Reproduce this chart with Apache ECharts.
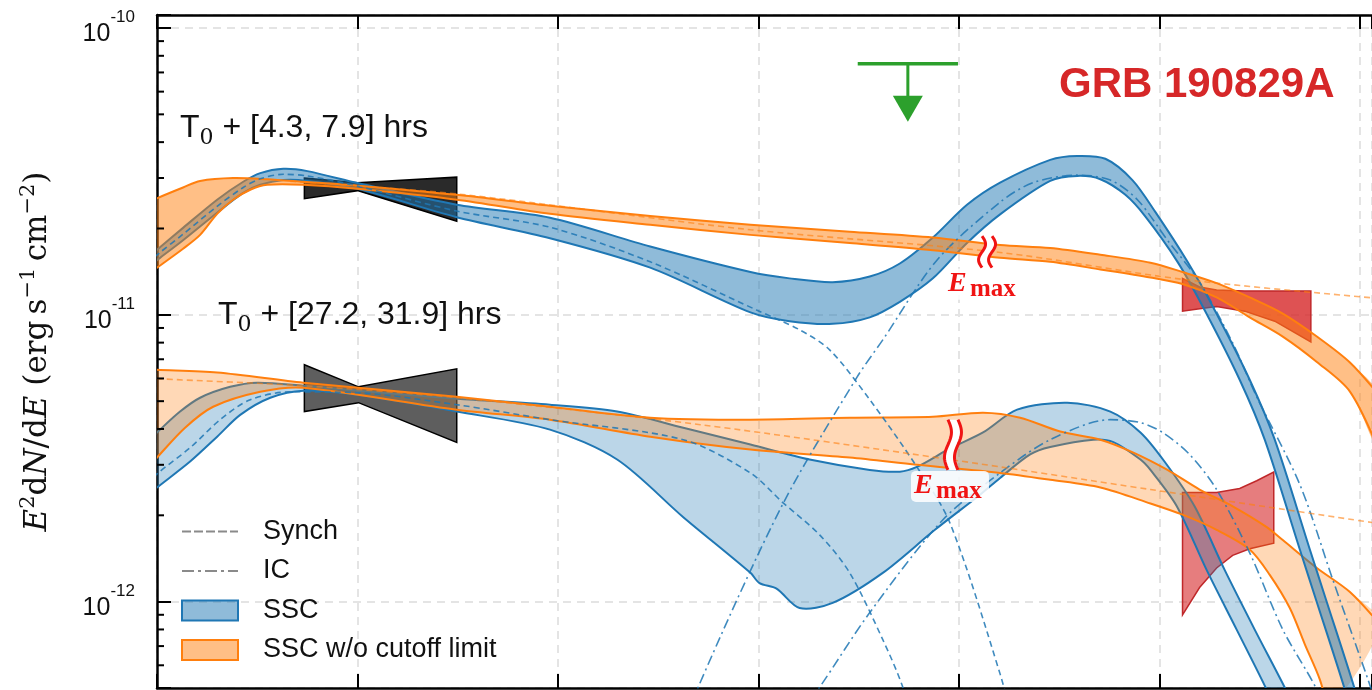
<!DOCTYPE html>
<html>
<head>
<meta charset="utf-8">
<title>GRB 190829A SED</title>
<script src="https://cdn.jsdelivr.net/npm/echarts@6/dist/echarts.min.js"></script>
<style>
  html, body { margin: 0; padding: 0; background: #fff; }
  #sed { width: 1372px; height: 690px; }
</style>
</head>
<body>
<div id="sed"></div>
<script>
// x = log10(E / eV), y = E^2 dN/dE in erg s^-1 cm^-2

// night 1: T0 + [4.3, 7.9] hrs
var ssc1Upper = [[0.90,1.57e-11],[1.03,1.72e-11],[1.26,2.01e-11],[1.60,2.52e-11],[1.86,2.91e-11],[2.03,3.12e-11],[2.26,3.23e-11],[2.50,3.17e-11],[3.00,2.88e-11],[3.99,2.42e-11],[4.92,2.18e-11],[5.92,1.73e-11],[6.92,1.41e-11],[7.31,1.34e-11],[7.74,1.30e-11],[8.11,1.36e-11],[8.41,1.51e-11],[8.74,1.86e-11],[9.08,2.42e-11],[9.41,2.89e-11],[9.91,3.47e-11],[10.18,3.58e-11],[10.46,3.50e-11],[10.73,2.95e-11],[10.96,2.28e-11],[11.28,1.53e-11],[11.55,1.04e-11],[11.90,5.94e-12],[12.15,3.67e-12],[12.50,1.52e-12],[12.66,1.02e-12],[12.95,4.93e-13],[13.08,3.4e-13]];
var ssc1Lower = [[0.90,1.46e-11],[1.03,1.58e-11],[1.26,1.82e-11],[1.60,2.27e-11],[1.86,2.66e-11],[2.03,2.84e-11],[2.26,2.95e-11],[2.50,2.93e-11],[3.00,2.75e-11],[3.99,2.19e-11],[4.92,1.85e-11],[5.92,1.46e-11],[6.92,1.02e-11],[7.31,9.5e-12],[7.74,9.3e-12],[8.11,9.8e-12],[8.41,1.11e-11],[8.74,1.34e-11],[9.08,1.78e-11],[9.41,2.24e-11],[9.91,2.93e-11],[10.18,3.05e-11],[10.41,2.97e-11],[10.66,2.62e-11],[10.86,2.20e-11],[11.18,1.53e-11],[11.45,1.04e-11],[11.80,5.94e-12],[12.05,3.67e-12],[12.40,1.52e-12],[12.56,1.02e-12],[12.85,4.93e-13],[12.98,3.4e-13]];
var synch1 = [[0.90,1.51e-11],[1.03,1.65e-11],[1.26,1.91e-11],[1.60,2.39e-11],[1.86,2.78e-11],[2.03,2.98e-11],[2.26,3.09e-11],[2.50,3.05e-11],[3.00,2.81e-11],[3.99,2.30e-11],[4.92,2.02e-11],[5.92,1.53e-11],[6.98,1.04e-11],[7.41,8.87e-12],[7.71,7.55e-12],[8.11,5.06e-12],[8.58,2.95e-12],[8.91,1.88e-12],[9.41,5.6e-13],[9.56,3.5e-13]];
var ic1 = [[6.22,3.3e-13],[6.40,5.05e-13],[7.24,2.18e-12],[7.98,6.04e-12],[8.24,8.18e-12],[8.78,1.55e-11],[9.41,2.47e-11],[9.74,2.89e-11],[10.18,3.07e-11],[10.51,2.95e-11],[10.78,2.52e-11],[11.08,1.82e-11],[11.40,1.30e-11],[11.73,7.98e-12],[11.97,5.18e-12],[12.40,2.56e-12],[12.73,1.19e-12],[13.08,5.35e-13],[13.20,4.0e-13]];
var noCut1Upper = [[0.90,2.45e-11],[1.00,2.55e-11],[1.26,2.78e-11],[1.43,2.93e-11],[1.76,3.00e-11],[2.10,2.97e-11],[2.46,2.91e-11],[3.00,2.82e-11],[3.99,2.62e-11],[4.92,2.40e-11],[5.92,2.21e-11],[6.92,2.06e-11],[7.91,1.95e-11],[8.74,1.86e-11],[9.41,1.75e-11],[9.91,1.71e-11],[10.41,1.62e-11],[10.91,1.52e-11],[11.23,1.41e-11],[11.57,1.29e-11],[11.90,1.15e-11],[12.23,1.01e-11],[12.57,8.4e-12],[12.90,6.82e-12],[13.20,5.2e-12]];
var noCut1Lower = [[0.90,1.38e-11],[1.00,1.46e-11],[1.26,1.70e-11],[1.43,1.90e-11],[1.60,2.25e-11],[1.76,2.52e-11],[1.93,2.73e-11],[2.10,2.84e-11],[2.46,2.84e-11],[3.00,2.75e-11],[3.99,2.52e-11],[4.92,2.25e-11],[5.92,2.06e-11],[6.92,1.90e-11],[7.91,1.78e-11],[8.74,1.68e-11],[9.41,1.58e-11],[9.91,1.53e-11],[10.41,1.44e-11],[10.91,1.35e-11],[11.23,1.28e-11],[11.57,1.15e-11],[11.90,9.8e-12],[12.23,8.4e-12],[12.57,6.85e-12],[12.90,5.4e-12],[13.20,3.3e-12]];
var noCutSynch1 = [[2.33,2.92e-11],[3.99,2.64e-11],[6.92,1.98e-11],[9.41,1.65e-11],[11.23,1.33e-11],[13.20,1.14e-11]];
var xrt1Top = [[2.47,3.00e-11],[3.00,2.89e-11],[3.99,3.02e-11]];
var xrt1Bottom = [[2.47,2.54e-11],[3.00,2.71e-11],[3.99,2.12e-11]];
var hess1Top = [[11.23,1.34e-11],[11.40,1.25e-11],[11.57,1.22e-11],[11.85,1.21e-11],[12.15,1.21e-11],[12.51,1.21e-11]];
var hess1Bottom = [[11.23,1.03e-11],[11.40,1.05e-11],[11.57,1.07e-11],[11.85,1.03e-11],[12.15,9.5e-12],[12.51,8.05e-12]];

// night 2: T0 + [27.2, 31.9] hrs
var ssc2Upper = [[0.90,3.60e-12],[1.00,3.89e-12],[1.23,4.60e-12],[1.43,5.14e-12],[1.73,5.61e-12],[2.00,5.80e-12],[2.46,5.66e-12],[3.00,5.44e-12],[3.99,5.10e-12],[4.92,4.86e-12],[5.59,4.60e-12],[6.32,3.98e-12],[6.92,3.53e-12],[7.51,3.13e-12],[8.11,2.88e-12],[8.41,2.84e-12],[8.58,2.95e-12],[8.91,3.42e-12],[9.24,3.89e-12],[9.58,4.67e-12],[10.08,4.94e-12],[10.51,4.60e-12],[10.81,3.89e-12],[11.05,3.08e-12],[11.35,2.15e-12],[11.65,1.29e-12],[11.95,7.99e-13],[12.27,4.86e-13],[12.40,3.88e-13]];
var ssc2Lower = [[0.90,2.34e-12],[1.00,2.50e-12],[1.33,3.08e-12],[1.60,3.76e-12],[1.83,4.48e-12],[2.13,5.14e-12],[2.46,5.44e-12],[3.00,5.26e-12],[3.99,4.60e-12],[4.92,3.98e-12],[5.59,3.13e-12],[6.25,1.97e-12],[6.92,1.26e-12],[7.01,1.16e-12],[7.18,1.11e-12],[7.41,9.5e-13],[7.74,9.9e-13],[8.24,1.26e-12],[8.76,1.78e-12],[9.21,2.36e-12],[9.41,2.70e-12],[9.71,3.26e-12],[9.91,3.46e-12],[10.34,3.67e-12],[10.54,3.60e-12],[10.81,3.13e-12],[10.91,2.88e-12],[11.17,2.16e-12],[11.47,1.29e-12],[11.77,7.99e-13],[12.07,4.93e-13],[12.20,3.88e-13]];
var synch2 = [[0.90,2.55e-12],[1.00,2.79e-12],[1.33,3.44e-12],[1.63,4.31e-12],[1.93,5.06e-12],[2.33,5.39e-12],[3.00,5.35e-12],[3.99,4.86e-12],[4.92,4.31e-12],[6.25,3.67e-12],[6.92,2.81e-12],[7.24,2.22e-12],[7.61,1.71e-12],[7.91,1.26e-12],[8.24,7.37e-13],[8.44,5.03e-13],[8.56,3.5e-13]];
var ic2 = [[7.51,4.55e-13],[7.61,5.03e-13],[8.11,9.16e-13],[8.84,1.93e-12],[9.41,2.81e-12],[9.91,3.67e-12],[10.51,4.31e-12],[10.81,4.21e-12],[11.03,3.89e-12],[11.30,3.26e-12],[11.57,2.46e-12],[11.90,1.48e-12],[12.23,7.99e-13],[12.57,4.93e-13],[12.65,4.0e-13]];
var noCut2Upper = [[0.90,6.45e-12],[1.00,6.43e-12],[1.60,6.30e-12],[2.46,5.80e-12],[3.99,5.18e-12],[4.92,4.78e-12],[5.92,4.38e-12],[6.92,4.31e-12],[7.91,4.38e-12],[8.74,4.41e-12],[9.24,4.56e-12],[9.61,4.38e-12],[10.01,3.92e-12],[10.41,3.67e-12],[10.74,3.31e-12],[11.08,2.88e-12],[11.40,2.46e-12],[11.73,2.15e-12],[12.07,1.82e-12],[12.23,1.64e-12],[12.57,1.31e-12],[12.90,1.08e-12],[13.20,8.32e-13]];
var noCut2Lower = [[0.90,2.91e-12],[1.00,3.18e-12],[1.28,4.04e-12],[1.56,4.78e-12],[2.03,5.39e-12],[2.46,5.57e-12],[3.99,4.67e-12],[4.92,4.31e-12],[5.92,3.76e-12],[6.92,3.39e-12],[7.91,3.18e-12],[8.58,3.00e-12],[9.41,2.81e-12],[9.91,2.66e-12],[10.41,2.50e-12],[10.91,2.20e-12],[11.23,2.01e-12],[11.57,1.78e-12],[11.90,1.52e-12],[12.10,1.24e-12],[12.30,9.5e-13],[12.45,7.1e-13],[12.60,5.35e-13],[12.68,4.2e-13]];
var noCutSynch2 = [[0.90,6.05e-12],[1.00,5.99e-12],[2.46,5.66e-12],[3.99,5.14e-12],[6.42,4.14e-12],[8.91,3.13e-12],[10.91,2.46e-12],[13.20,1.87e-12]];
var xrt2Top = [[2.47,6.70e-12],[3.01,5.61e-12],[3.99,6.48e-12]];
var xrt2Bottom = [[2.47,4.60e-12],[3.01,4.94e-12],[3.99,3.59e-12]];
var hess2Top = [[11.23,2.40e-12],[11.57,2.40e-12],[11.80,2.48e-12],[11.97,2.64e-12],[12.14,2.83e-12]];
var hess2Bottom = [[11.23,9.0e-13],[11.40,1.12e-12],[11.57,1.31e-12],[11.73,1.45e-12],[11.90,1.53e-12],[12.14,1.60e-12]];

// Fermi-LAT upper limit (night 1)
var ulEnergy = [7.99, 8.99];
var ulFlux = 7.5e-11;

// E_max break marks: [x, top of band, bottom of band]
var emaxMarks = [[9.28, 1.88e-11, 1.46e-11], [8.94, 4.31e-12, 2.88e-12]];

var xMin = 1, xMax = 13.12, yMin = 5.0e-13, yMax = 1.11e-10;
var yMinorTicks = [];
[1e-13, 1e-12, 1e-11].forEach(function (d) {
  for (var m = 2; m <= 9; m++) {
    if (m * d > yMin && m * d < yMax) yMinorTicks.push(m * d);
  }
});

var blue = '#1f77b4', orange = '#ff7f0e', emaxRed = '#f01414';

function toPx(api, pts) {
  return pts.map(function (p) { return api.coord(p); });
}

function band(name, upper, lower, color, fill) {
  return {
    name: name, type: 'custom', clip: true, silent: true, z: 2,
    data: upper,
    renderItem: function (params, api) {
      if (params.dataIndex !== 0) return null;
      var up = toPx(api, upper), lo = toPx(api, lower);
      return {
        type: 'group',
        children: [
          { type: 'polygon', shape: { points: up.concat(lo.slice().reverse()), smooth: 0.3 }, style: { fill: fill } },
          { type: 'polyline', shape: { points: up, smooth: 0.3 }, style: { stroke: color, lineWidth: 2, fill: null } },
          { type: 'polyline', shape: { points: lo, smooth: 0.3 }, style: { stroke: color, lineWidth: 2, fill: null } }
        ]
      };
    }
  };
}

function bowtie(top, bottom, fill, stroke) {
  return {
    type: 'custom', clip: true, silent: true, z: 1,
    data: top,
    renderItem: function (params, api) {
      if (params.dataIndex !== 0) return null;
      var pts = toPx(api, top).concat(toPx(api, bottom).reverse());
      return { type: 'polygon', shape: { points: pts }, style: { fill: fill, stroke: stroke, lineWidth: 1.5 } };
    }
  };
}

function curve(data, color, dash, width) {
  return {
    type: 'line', data: data, symbol: 'none', smooth: 0.3, silent: true, z: 3,
    lineStyle: { color: color, type: dash, width: width || 1.6 }
  };
}

var dashSynch = [6, 4];
var dashIC = [10, 4, 2, 4];

var epochRich = {
  t: { fontSize: 32, fontWeight: 'normal', color: '#111', fontFamily: 'Liberation Sans', verticalAlign: 'bottom', padding: [0, 0, 5, 0] },
  s: { fontSize: 22, fontWeight: 'normal', color: '#111', fontFamily: 'DejaVu Serif', verticalAlign: 'bottom' }
};

var chart = echarts.init(document.getElementById('sed'));

var option = {
  animation: false,
  backgroundColor: '#fff',
  textStyle: { fontFamily: 'Liberation Sans' },
  title: [
    {
      text: 'GRB 190829A', left: 1059, top: 64, padding: 0,
      textStyle: { fontSize: 42, fontWeight: 'bold', color: '#d62728', fontFamily: 'Liberation Sans' }
    },
    {
      text: '{t|T}{s|0}{t| + [4.3, 7.9] hrs}', left: 180, top: 112, padding: 0,
      textStyle: { fontWeight: 'normal', rich: epochRich }
    },
    {
      text: '{t|T}{s|0}{t| + [27.2, 31.9] hrs}', left: 218, top: 299, padding: 0,
      textStyle: { fontWeight: 'normal', rich: epochRich }
    }
  ],
  legend: {
    orient: 'vertical', left: 181, top: 518, padding: 0,
    itemWidth: 56, itemHeight: 20, itemGap: 12.5,
    selectedMode: false,
    textStyle: { fontSize: 27, color: '#111', fontFamily: 'Liberation Sans', padding: [0, 0, 0, 20] },
    data: [
      {
        name: 'Synch',
        icon: 'path://M0,0h0.01v0.01h-0.01z M0,20h0.01v0.01h-0.01z M56,0h0.01v0.01h-0.01z M0,9h9v2h-9z M12,9h9v2h-9z M24,9h9v2h-9z M36,9h9v2h-9z M48,9h8v2h-8z',
        itemStyle: { color: '#8a8a8a' }
      },
      {
        name: 'IC',
        icon: 'path://M0,0h0.01v0.01h-0.01z M0,20h0.01v0.01h-0.01z M56,0h0.01v0.01h-0.01z M0,9h12v2h-12z M16,9h3v2h-3z M23,9h12v2h-12z M39,9h3v2h-3z M46,9h10v2h-10z',
        itemStyle: { color: '#8a8a8a' }
      },
      { name: 'SSC', icon: 'rect', itemStyle: { color: 'rgba(31,119,180,0.5)', borderColor: blue, borderWidth: 2 } },
      { name: 'SSC w/o cutoff limit', icon: 'rect', itemStyle: { color: 'rgba(255,127,14,0.5)', borderColor: orange, borderWidth: 2 } }
    ]
  },
  grid: { left: 157, right: 0, top: 15, bottom: 2 },
  xAxis: [
    {
      type: 'value', min: xMin, max: xMax, interval: 2,
      axisLine: { onZero: false, lineStyle: { color: '#000', width: 2.5 } },
      axisTick: { inside: true, length: 14, lineStyle: { color: '#000', width: 2 } },
      axisLabel: { show: false },
      splitLine: { show: true, lineStyle: { color: '#e4e4e4', type: [8, 6], width: 2 } }
    },
    {
      type: 'value', position: 'top', min: xMin, max: xMax, interval: 2,
      axisLine: { onZero: false, lineStyle: { color: '#000', width: 2.5 } },
      axisTick: { inside: true, length: 14, lineStyle: { color: '#000', width: 2 } },
      axisLabel: { show: false },
      splitLine: { show: false }
    }
  ],
  yAxis: {
    type: 'log', min: yMin, max: yMax,
    axisLine: { lineStyle: { color: '#000', width: 2.5 } },
    axisTick: { inside: true, length: 14, lineStyle: { color: '#000', width: 2 } },
    splitLine: { show: true, lineStyle: { color: '#e4e4e4', type: [8, 6], width: 2 } },
    axisLabel: {
      margin: 22,
      formatter: function (v) {
        var e = Math.log10(v), n = Math.round(e);
        if (Math.abs(e - n) > 1e-6) return '';
        return '{b|10}{e|' + n + '}';
      },
      rich: {
        b: { fontSize: 25, color: '#111', fontFamily: 'Liberation Sans', verticalAlign: 'bottom' },
        e: { fontSize: 17, color: '#111', fontFamily: 'Liberation Sans', verticalAlign: 'bottom', padding: [0, 0, 21, 0] }
      }
    },
    name: '{i|E}{p|2}{r|d}{i|N}{r|/d}{i|E}{r| (erg\u2009s}{p|\u22121}{r|\u2009cm}{p|\u22122}{r|)}',
    nameLocation: 'middle', nameRotate: 90, nameGap: 104,
    nameTextStyle: {
      rich: {
        i: { fontSize: 31, fontStyle: 'italic', color: '#111', fontFamily: 'DejaVu Serif', verticalAlign: 'bottom' },
        r: { fontSize: 31, color: '#111', fontFamily: 'DejaVu Serif', verticalAlign: 'bottom' },
        p: { fontSize: 21, color: '#111', fontFamily: 'DejaVu Serif', verticalAlign: 'bottom', padding: [0, 0, 14, 0] }
      }
    }
  },
  series: [
    bowtie(xrt2Top, xrt2Bottom, '#5e5e5e', '#000'),
    bowtie(xrt1Top, xrt1Bottom, '#2a2a2a', '#000'),
    bowtie(hess2Top, hess2Bottom, 'rgba(214,39,40,0.6)', '#c0282a'),
    bowtie(hess1Top, hess1Bottom, 'rgba(214,39,40,0.8)', '#c0282a'),
    band('SSC', ssc2Upper, ssc2Lower, blue, 'rgba(31,119,180,0.3)'),
    band('SSC w/o cutoff limit', noCut2Upper, noCut2Lower, orange, 'rgba(255,127,14,0.3)'),
    band('SSC', ssc1Upper, ssc1Lower, blue, 'rgba(31,119,180,0.5)'),
    band('SSC w/o cutoff limit', noCut1Upper, noCut1Lower, orange, 'rgba(255,127,14,0.5)'),
    curve(synch1, 'rgba(31,119,180,0.85)', dashSynch),
    curve(ic1, 'rgba(31,119,180,0.85)', dashIC),
    curve(synch2, 'rgba(31,119,180,0.85)', dashSynch),
    curve(ic2, 'rgba(31,119,180,0.85)', dashIC),
    curve(noCutSynch1, 'rgba(255,127,14,0.6)', dashSynch),
    curve(noCutSynch2, 'rgba(255,127,14,0.6)', dashSynch),
    {
      type: 'custom', silent: true, z: 4,
      data: [[ulEnergy[0], ulEnergy[1], ulFlux]],
      renderItem: function (params, api) {
        var a = api.coord([api.value(0), api.value(2)]);
        var b = api.coord([api.value(1), api.value(2)]);
        var cx = (a[0] + b[0]) / 2, y = a[1];
        return {
          type: 'group',
          children: [
            { type: 'line', shape: { x1: a[0], y1: y, x2: b[0], y2: y }, style: { stroke: '#2ca02c', lineWidth: 3.5 } },
            { type: 'line', shape: { x1: cx, y1: y, x2: cx, y2: y + 34 }, style: { stroke: '#2ca02c', lineWidth: 3 } },
            { type: 'polygon', shape: { points: [[cx - 15, y + 32], [cx + 15, y + 32], [cx, y + 58]] }, style: { fill: '#2ca02c' } }
          ]
        };
      }
    },
    {
      type: 'custom', silent: true, z: 5,
      data: emaxMarks,
      renderItem: function (params, api) {
        var t = api.coord([api.value(0), api.value(1)]);
        var b = api.coord([api.value(0), api.value(2)]);
        var cx = t[0], y0 = t[1], y1 = b[1];
        function wave(off) {
          var pts = [];
          for (var i = 0; i <= 24; i++) {
            var s = i / 24;
            pts.push([cx + off + 3.5 * Math.sin(2 * Math.PI * s), y0 + (y1 - y0) * s]);
          }
          return pts;
        }
        var l = wave(-5), r = wave(5);
        var lx = cx - 39, ty = y1 + 2;
        return {
          type: 'group',
          children: [
            { type: 'polygon', shape: { points: l.concat(r.slice().reverse()) }, style: { fill: '#fff' } },
            { type: 'polyline', shape: { points: l }, style: { stroke: emaxRed, lineWidth: 3, fill: null } },
            { type: 'polyline', shape: { points: r }, style: { stroke: emaxRed, lineWidth: 3, fill: null } },
            { type: 'rect', shape: { x: lx - 3, y: ty - 1, width: 78, height: 31, r: 5 }, style: { fill: 'rgba(255,255,255,0.85)' } },
            { type: 'text', style: { text: 'E', x: lx, y: ty, font: 'italic bold 28px "Liberation Serif"', fill: emaxRed, verticalAlign: 'top' } },
            { type: 'text', style: { text: 'max', x: lx + 22, y: ty + 7, font: 'bold 25px "Liberation Serif"', fill: emaxRed, verticalAlign: 'top' } }
          ]
        };
      }
    },
    {
      type: 'custom', silent: true, z: 6,
      data: yMinorTicks.map(function (v) { return [xMin, v]; }),
      renderItem: function (params, api) {
        var p = api.coord([api.value(0), api.value(1)]);
        return { type: 'line', shape: { x1: p[0], y1: p[1], x2: p[0] + 7, y2: p[1] }, style: { stroke: '#000', lineWidth: 2 } };
      }
    },
    { name: 'Synch', type: 'line', data: [], symbol: 'none', lineStyle: { color: '#8a8a8a', type: dashSynch } },
    { name: 'IC', type: 'line', data: [], symbol: 'none', lineStyle: { color: '#8a8a8a', type: dashIC } }
  ]
};

chart.setOption(option);

window.onresize = function () {
  chart.resize();
};
</script>
</body>
</html>
